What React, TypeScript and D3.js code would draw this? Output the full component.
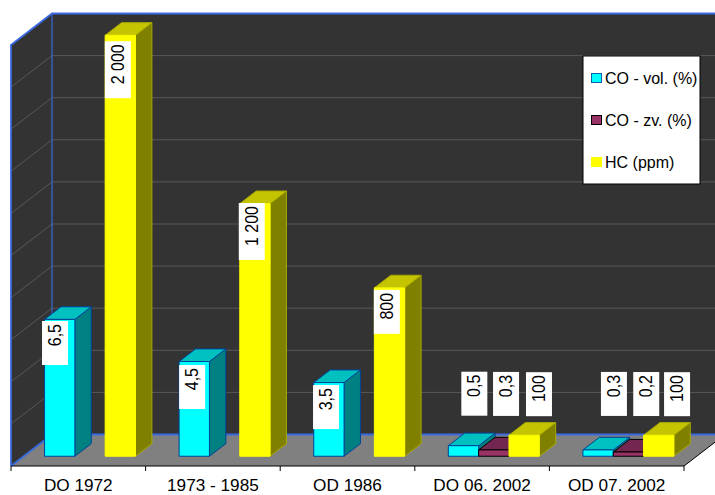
import React from "react";
import * as d3 from "d3";

// Exhaust emission limits by vehicle registration period
const categories = ["DO 1972", "1973 - 1985", "OD 1986", "DO 06. 2002", "OD 07. 2002"];
const coVol = [6.5, 4.5, 3.5, 0.5, 0.3];
const coZv: (number | null)[] = [null, null, null, 0.3, 0.2];
const hc = [2000, 1200, 800, 100, 100];
const seriesNames = ["CO - vol. (%)", "CO - zv. (%)", "HC (ppm)"];
const percentTicks = d3.range(0, 21, 2);

const W = 715;
const H = 495;
const FRONT_LEFT = 11;
const FRONT_RIGHT = 684;
const FLOOR_FRONT = 466;
const PLOT_H = 421;
const DX = 41;
const DY = -31.5;
const Z0 = 0.31;
const Z1 = 0.71;
const BLUE = "#3a6ae0";

const x0 = d3.scaleBand<string>().domain(categories).range([FRONT_LEFT, FRONT_RIGHT]);
const x1 = d3
  .scaleBand<string>()
  .domain(seriesNames)
  .range([-1, x0.bandwidth() - 1])
  .paddingOuter(0.72)
  .paddingInner(0);
const yLeft = d3.scaleLinear().domain([0, 20]).range([0, PLOT_H]);
const yRight = d3.scaleLinear().domain([0, 2000]).range([0, PLOT_H]);

const project = (x: number, h: number, z: number): [number, number] => [
  x + DX * z,
  FLOOR_FRONT - h + DY * z,
];
const pts = (list: [number, number][]) => list.map((p) => p.join(",")).join(" ");

const styles = [
  { front: "#00ffff", side: "#008080", top: "#00c0c0", line: "#00429a", frontLine: "#00429a", key: "#00ffff", keyLine: "#0a5fa8" },
  { front: "#993366", side: "#4d1a33", top: "#732650", line: "#000000", frontLine: "#000000", key: "#993366", keyLine: "#000000" },
  { front: "#ffff00", side: "#808000", top: "#c4c400", line: "#a8a800", frontLine: "#ffff00", key: "#ffff00", keyLine: "#ffff00" },
];

const fmt = (v: number) =>
  v >= 1000 ? `${Math.floor(v / 1000)} ${String(v % 1000).padStart(3, "0")}` : String(v).replace(".", ",");

// Hand-placed label nudges relative to each bar's top-left corner
const labelNudge: { dx: number; dy: number }[][] = [
  [{ dx: -2.5, dy: 1.6 }, { dx: 0, dy: 3.5 }, { dx: -0.7, dy: 2.5 }, { dx: 13, dy: -74 }, { dx: 18, dy: -78 }],
  [{ dx: 0, dy: 0 }, { dx: 0, dy: 0 }, { dx: 0, dy: 0 }, { dx: 14.4, dy: -78 }, { dx: 20, dy: -80 }],
  [{ dx: -0.3, dy: 6 }, { dx: -1, dy: -0.6 }, { dx: -0.5, dy: 2 }, { dx: 17, dy: -63 }, { dx: 20.5, dy: -63 }],
];

function Bar({ cat, si, h }: { cat: string; si: number; h: number }) {
  const s = styles[si];
  const xa = x0(cat)! + x1(seriesNames[si])!;
  const xb = xa + x1.bandwidth();
  const a = project(xa, 0, Z0);
  const b = project(xb, 0, Z0);
  const c = project(xb, h, Z0);
  const d = project(xa, h, Z0);
  const e = project(xa, h, Z1);
  const f = project(xb, h, Z1);
  const g = project(xb, 0, Z1);
  return (
    <g stroke={s.line} strokeWidth={1} strokeLinejoin="round">
      <polygon points={pts([b, g, f, c])} fill={s.side} />
      <polygon points={pts([d, c, f, e])} fill={s.top} />
      <polygon points={pts([a, b, c, d])} fill={s.front} stroke={s.frontLine} />
    </g>
  );
}

export default function App() {
  const allSeries = [
    { values: coVol as (number | null)[], y: yLeft },
    { values: coZv, y: yLeft },
    { values: hc as (number | null)[], y: yRight },
  ];
  const backX0 = FRONT_LEFT + DX;
  const backX1 = FRONT_RIGHT + DX;
  const backFloor = FLOOR_FRONT + DY;
  const ticks = x0.domain().map((c) => x0(c)!).concat(FRONT_RIGHT);

  return (
    <svg
      width={W}
      height={H}
      viewBox={`0 0 ${W} ${H}`}
      style={{ position: "absolute", left: 0, top: 0, background: "#fff" }}
      fontFamily="'Liberation Sans', Arial, sans-serif"
    >
      {/* back and side walls, floor */}
      <polygon
        points={pts([
          [backX0, backFloor - PLOT_H],
          [backX1, backFloor - PLOT_H],
          [backX1, backFloor],
          [backX0, backFloor],
        ])}
        fill="#333333"
      />
      <polygon
        points={pts([
          [FRONT_LEFT, FLOOR_FRONT - PLOT_H],
          [backX0, backFloor - PLOT_H],
          [backX0, backFloor],
          [FRONT_LEFT, FLOOR_FRONT],
        ])}
        fill="#333333"
      />
      <polygon
        points={pts([
          [FRONT_LEFT, FLOOR_FRONT],
          [backX0, backFloor],
          [backX1, backFloor],
          [FRONT_RIGHT, FLOOR_FRONT],
        ])}
        fill="#808080"
      />

      {/* gridlines across both walls */}
      {percentTicks.slice(1, -1).map((t) => {
        const h = yLeft(t);
        return (
          <polyline
            key={t}
            points={pts([
              [FRONT_LEFT, FLOOR_FRONT - h],
              [backX0, backFloor - h],
              [backX1, backFloor - h],
            ])}
            fill="none"
            stroke="#595959"
            strokeWidth={1}
          />
        );
      })}

      {/* wall outlines */}
      <polyline
        points={pts([
          [FRONT_LEFT, FLOOR_FRONT],
          [FRONT_LEFT, FLOOR_FRONT - PLOT_H],
          [backX0, backFloor - PLOT_H],
          [backX1, backFloor - PLOT_H],
        ])}
        fill="none"
        stroke={BLUE}
        strokeWidth={1.8}
      />
      <polyline
        points={pts([
          [FRONT_LEFT, FLOOR_FRONT],
          [backX0, backFloor],
          [backX1, backFloor],
        ])}
        fill="none"
        stroke={BLUE}
        strokeWidth={1.8}
      />
      <line x1={backX0} x2={backX0} y1={backFloor - PLOT_H} y2={backFloor} stroke={BLUE} strokeWidth={1.2} />

      {/* category axis */}
      <line x1={FRONT_LEFT} x2={FRONT_RIGHT} y1={FLOOR_FRONT} y2={FLOOR_FRONT} stroke="#000" strokeWidth={1} />
      <line x1={FRONT_RIGHT} x2={FRONT_RIGHT + DX} y1={FLOOR_FRONT} y2={backFloor} stroke="#000" strokeWidth={1} />
      {ticks.map((t) => (
        <line key={t} x1={t} x2={t} y1={FLOOR_FRONT} y2={FLOOR_FRONT + 5} stroke="#000" strokeWidth={1} />
      ))}
      {categories.map((c) => (
        <text key={c} x={x0(c)! + x0.bandwidth() / 2} y={491.2} textAnchor="middle" fontSize={17.2} fill="#000">
          {c}
        </text>
      ))}

      {/* bars, left to right so nearer faces overlap */}
      {categories.map((c, ci) =>
        allSeries.map((s, si) => {
          const v = s.values[ci];
          return v == null ? null : <Bar key={`${c}${si}`} cat={c} si={si} h={s.y(v)} />;
        })
      )}

      {/* rotated value labels on white plates */}
      {categories.map((c, ci) =>
        allSeries.map((s, si) => {
          const v = s.values[ci];
          if (v == null) return null;
          const label = fmt(v);
          const n = labelNudge[si][ci];
          const [bx, by] = project(x0(c)! + x1(seriesNames[si])!, s.y(v), Z0);
          const left = bx + n.dx;
          const top = by + n.dy;
          const w = 26;
          const hgt = label.length > 3 ? 57 : 44;
          return (
            <g key={`l${c}${si}`}>
              <rect x={left} y={top} width={w} height={hgt} fill="#fff" />
              <text
                transform={`translate(${left + w / 2},${top + 3}) rotate(-90) scale(0.89,1)`}
                textAnchor="end"
                dominantBaseline="central"
                fontSize={18}
                fill="#000"
              >
                {label}
              </text>
            </g>
          );
        })
      )}

      {/* legend */}
      <rect x={583} y={56} width={117} height={128} fill="#fff" stroke="#000" strokeWidth={1} />
      {seriesNames.map((name, i) => (
        <g key={name}>
          <rect
            x={591.5}
            y={73.5 + i * 42}
            width={10}
            height={9}
            fill={styles[i].key}
            stroke={styles[i].keyLine}
            strokeWidth={1}
          />
          <text x={605} y={84 + i * 42} fontSize={16} fill="#000">
            {name}
          </text>
        </g>
      ))}
    </svg>
  );
}
